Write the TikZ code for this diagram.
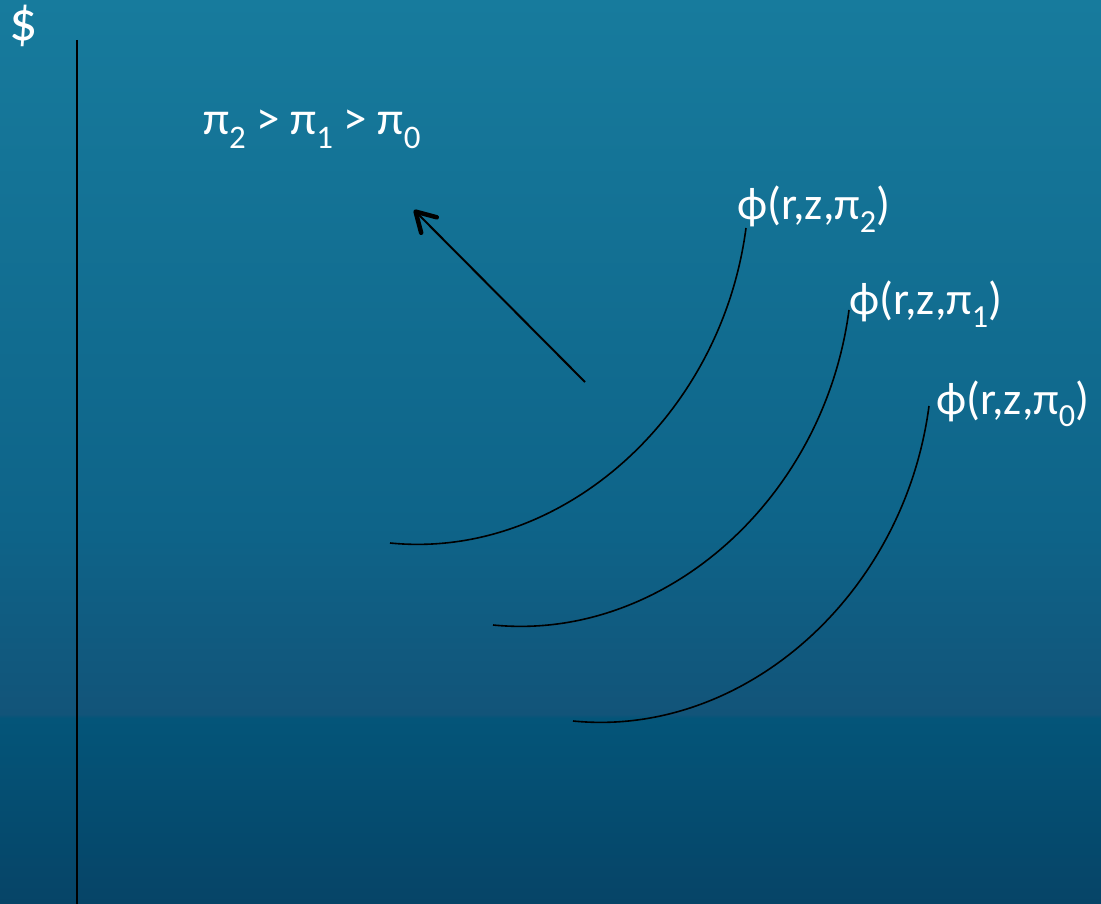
\documentclass[tikz,border=0pt]{standalone}
\usepackage{fontspec}
\setmainfont{Carlito}
\usepackage{tikz}
\usetikzlibrary{arrows.meta,calc}

\definecolor{bgtop}{HTML}{177B9D}
\definecolor{bgmid}{HTML}{0E6489}
\definecolor{bgband}{HTML}{125479}
\definecolor{bglow}{HTML}{045579}
\definecolor{bgbot}{HTML}{064467}

\pgfdeclareverticalshading{slidebg}{100bp}{color(0bp)=(bgbot); color(25bp)=(bgbot);
  color(35.3bp)=(bglow); color(35.5bp)=(bgband); color(46bp)=(bgmid);
  color(75bp)=(bgtop); color(100bp)=(bgtop)}

\newlength{\fsize}
\newcommand{\idx}[1]{\raisebox{-0.28em}{\fontsize{0.7\fsize}{0.7\fsize}\selectfont #1}}

\tikzset{
  big/.style={text=white, inner sep=0pt, font=\setlength{\fsize}{47pt}\fontsize{47}{52}\selectfont},
  fname/.style={text=white, inner sep=0pt, anchor=base west,
    font=\setlength{\fsize}{46pt}\fontsize{46}{50}\selectfont},
  curve/.style={black, line width=1.6pt},
}

\begin{document}
\begin{tikzpicture}[x=1pt, y=-1pt, >={Straight Barb[length=19pt,width=22pt,line width=4.5pt,round]}]
  % background
  \fill[shading=slidebg] (0,0) rectangle (1101,904);
  \useasboundingbox (0,0) rectangle (1101,904);

  % axis
  \node[big, font=\fontsize{56}{60}\selectfont] (dollar) at (24,26) {\$};
  \coordinate (axtop) at (77,40);
  \coordinate (axbot) at (77,904);
  \draw[line width=2.2pt] (axtop) -- (axbot);

  % ordering of the curves
  \node[big, anchor=base west] (order) at (203,135)
    {π\idx{2} > π\idx{1} > π\idx{0}};
  \coordinate (tail) at (585,382);
  \coordinate (tip) at (414,210);
  \draw[->, line width=2pt] (tail) -- (tip);

  % the three curves
  \foreach \i/\dx/\dy in {2/0/0, 1/103/82, 0/183/178}{
    \begin{scope}[shift={(\dx,\dy)}]
      \coordinate (s\i) at (390,543);
      \coordinate (e\i) at (746,228);
    \end{scope}
    \draw[curve] (s\i) .. controls ($(s\i)+(170,17)$) and ($(e\i)+(-25,190)$) .. (e\i);
  }

  \node[fname] (phi2) at (737,220) {ϕ(r,z,π\idx{2})};
  \node[fname] (phi1) at (849,315) {ϕ(r,z,π\idx{1})};
  \node[fname] (phi0) at (936,414) {ϕ(r,z,π\idx{0})};
\end{tikzpicture}
\end{document}
